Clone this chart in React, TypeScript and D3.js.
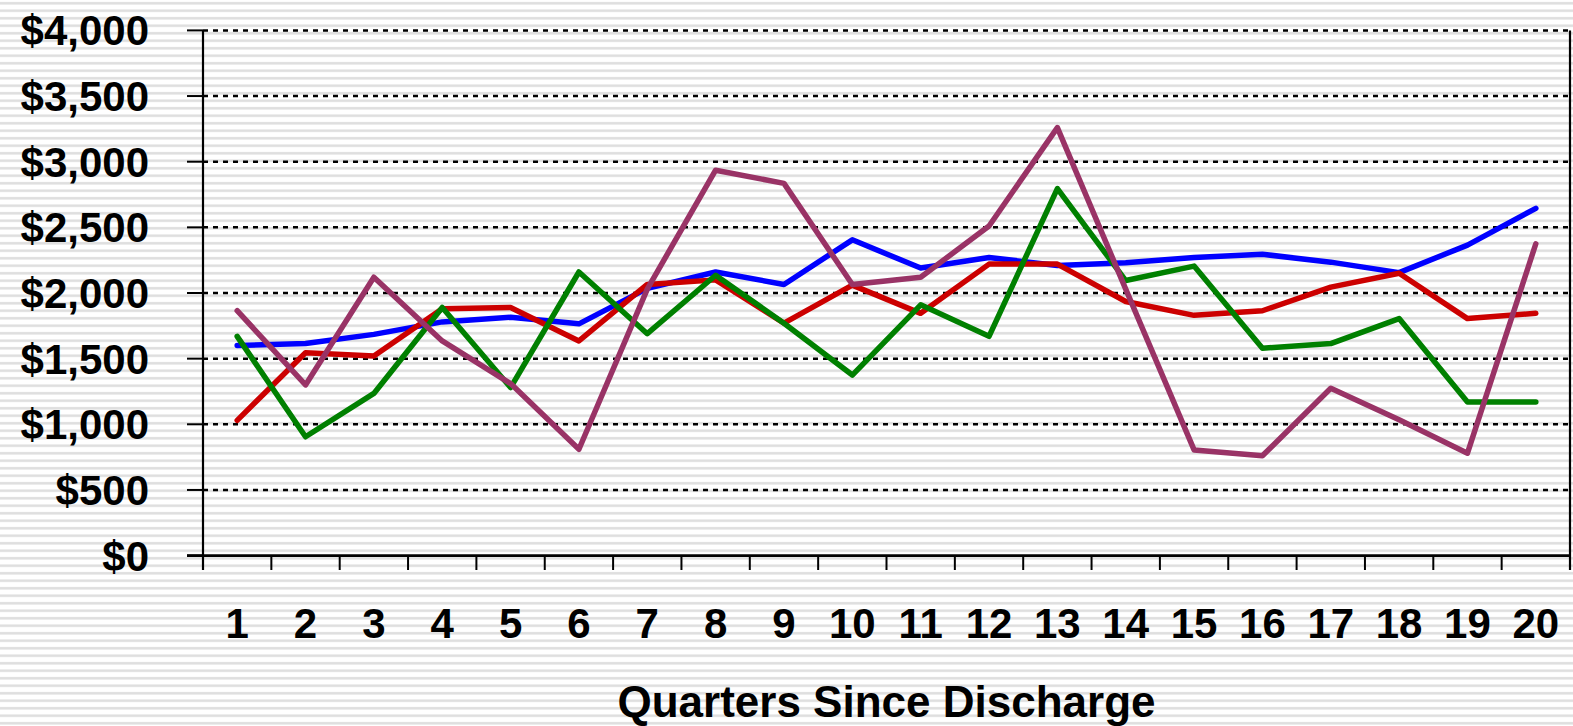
import React, { useEffect } from "react";
import * as d3 from "d3";

const quarters = ["1","2","3","4","5","6","7","8","9","10","11","12","13","14","15","16","17","18","19","20"];
const seriesBlue = [1600,1615,1685,1780,1815,1765,2035,2160,2065,2405,2190,2270,2210,2230,2270,2295,2235,2155,2365,2645];
const seriesRed = [1030,1545,1520,1880,1890,1635,2065,2100,1770,2060,1845,2220,2220,1935,1830,1865,2045,2150,1805,1845];
const seriesGreen = [1670,905,1235,1890,1280,2160,1690,2135,1770,1375,1910,1670,2795,2095,2205,1580,1615,1805,1170,1170];
const seriesPurple = [1865,1300,2120,1635,1310,810,2030,2935,2835,2065,2120,2510,3260,2030,805,760,1275,1035,780,2375];
const yTicks = [0,500,1000,1500,2000,2500,3000,3500,4000];
const xTitle = "Quarters Since Discharge";

const series = [
  { name: "Blue", values: seriesBlue, color: "#0000FF" },
  { name: "Red", values: seriesRed, color: "#CC0000" },
  { name: "Green", values: seriesGreen, color: "#008000" },
  { name: "Purple", values: seriesPurple, color: "#993366" },
];

const W = 1573, H = 726;
const L = 203, R = 1570, T = 30.4, B = 555.6;

export default function App() {
  useEffect(() => {
    document.body.style.margin = "0";
    document.body.style.overflow = "hidden";
  }, []);

  const x = d3.scaleBand<string>().domain(quarters).range([L, R]).paddingInner(0).paddingOuter(0);
  const y = d3.scaleLinear().domain([0, 4000]).range([B, T]);
  const cx = (q: string) => (x(q) as number) + x.bandwidth() / 2;
  const line = d3.line<number>().x((_, i) => cx(quarters[i])).y((v) => y(v));
  const fmt = (v: number) => "$" + d3.format(",")(v);
  const font = "'Liberation Sans', Arial, Helvetica, sans-serif";
  const boundaries = quarters.map((q) => x(q) as number).concat([R]);

  return (
    <svg width={W} height={H} style={{ position: "absolute", left: 0, top: 0, display: "block" }}>
      <defs>
        <pattern id="stripes" x="0" y="0" width="8" height="7.5" patternUnits="userSpaceOnUse">
          <rect x="0" y="0" width="8" height="7.5" fill="#ffffff" />
          <rect x="0" y="2" width="8" height="2.5" fill="#dedede" />
        </pattern>
      </defs>
      <rect x={0} y={0} width={W} height={H} fill="url(#stripes)" />

      {/* gridlines */}
      {yTicks.filter((t) => t > 0).map((t) => (
        <line key={"g" + t} x1={L} x2={R} y1={y(t)} y2={y(t)} stroke="#000" strokeWidth={2.5} strokeDasharray="5,5" />
      ))}

      {/* y ticks & labels */}
      {yTicks.map((t) => (
        <g key={"y" + t}>
          <line x1={187} x2={L} y1={y(t)} y2={y(t)} stroke="#000" strokeWidth={2} />
          <text x={149} y={y(t) + 15} textAnchor="end" fontFamily={font} fontWeight="bold" fontSize={42} fill="#000">
            {fmt(t)}
          </text>
        </g>
      ))}

      {/* axes */}
      <line x1={L} x2={L} y1={T} y2={570} stroke="#000" strokeWidth={2.2} />
      <line x1={R} x2={R} y1={T} y2={570} stroke="#000" strokeWidth={2.2} />
      <line x1={187} x2={R} y1={B} y2={B} stroke="#000" strokeWidth={2.7} />
      {boundaries.map((bx, i) => (
        <line key={"xt" + i} x1={bx} x2={bx} y1={B} y2={570} stroke="#000" strokeWidth={2} />
      ))}
      {quarters.map((q) => (
        <text key={"xl" + q} x={cx(q)} y={638} textAnchor="middle" fontFamily={font} fontWeight="bold" fontSize={42} fill="#000">
          {q}
        </text>
      ))}
      <text x={(L + R) / 2} y={717} textAnchor="middle" fontFamily={font} fontWeight="bold" fontSize={44} fill="#000">
        {xTitle}
      </text>

      {/* series */}
      {series.map((s) => (
        <path key={s.name} d={line(s.values) || ""} fill="none" stroke={s.color} strokeWidth={5.5} strokeLinejoin="round" strokeLinecap="round" />
      ))}
    </svg>
  );
}
